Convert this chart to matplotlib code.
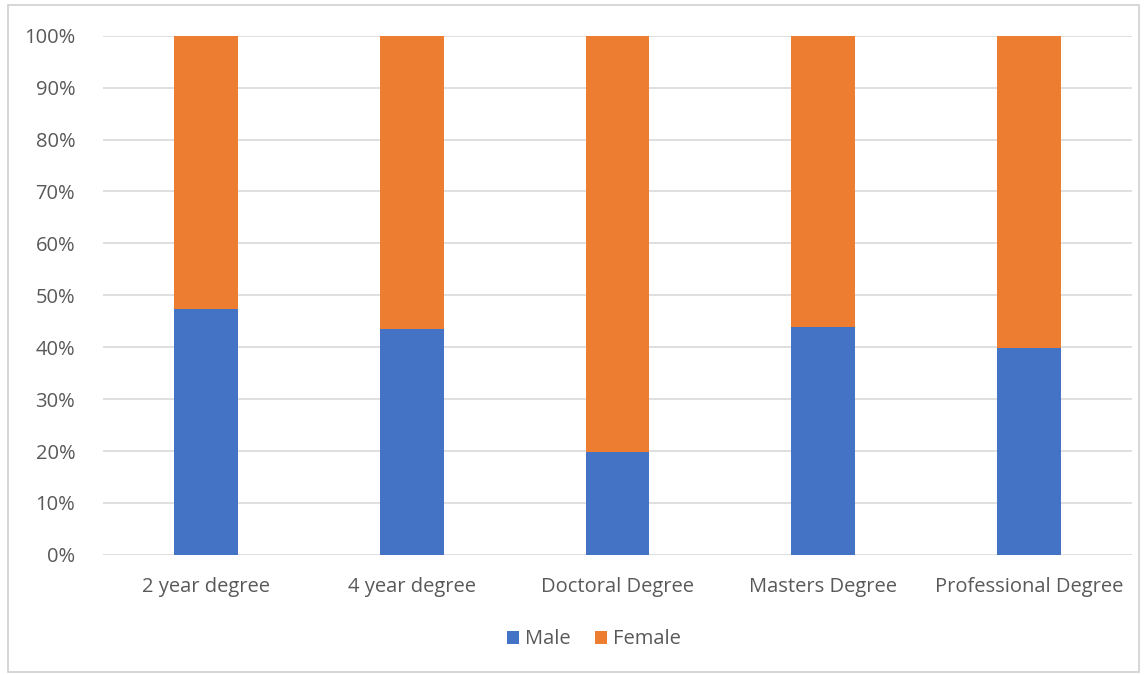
import matplotlib

matplotlib.use("Agg")

import matplotlib.pyplot as plt  # noqa: E402
from matplotlib.patches import Rectangle  # noqa: E402
from matplotlib.ticker import PercentFormatter  # noqa: E402

# Share of each gender by degree type (percent of the column).
degrees = ["2 year degree", "4 year degree", "Doctoral Degree", "Masters Degree", "Professional Degree"]
male_pct = [47.3, 43.5, 19.8, 43.8, 39.8]
female_pct = [100 - m for m in male_pct]

BLUE = "#4472C4"
ORANGE = "#ED7D31"
TEXT = "#595959"
GRID = "#D9D9D9"

plt.rcParams["font.family"] = ["Open Sans", "DejaVu Sans"]

fig = plt.figure(figsize=(11.47, 6.75), dpi=100)
ax = fig.add_axes([0.0898, 0.178, 0.897, 0.769])

# Light frame around the whole chart area.
fig.patches.append(Rectangle((0.007, 0.005), 0.986, 0.987, transform=fig.transFigure,
                             fill=False, edgecolor="#D0D0D0", linewidth=1.2))

x = range(len(degrees))
ax.bar(x, male_pct, width=0.31, color=BLUE, label="Male", zorder=2)
ax.bar(x, female_pct, width=0.31, bottom=male_pct, color=ORANGE, label="Female", zorder=2)

ax.set_xlim(-0.5, len(degrees) - 0.5)
ax.set_ylim(0, 100)
ax.set_yticks(range(0, 101, 10))
ax.yaxis.set_major_formatter(PercentFormatter(decimals=0))
ax.set_xticks(list(x))
ax.set_xticklabels(degrees)

ax.grid(axis="y", color=GRID, linewidth=1.2, zorder=0)
ax.tick_params(length=0, labelsize=14.5, colors=TEXT)
ax.tick_params(axis="x", pad=16)
ax.tick_params(axis="y", pad=20)
for side in ("top", "right", "left", "bottom"):
    ax.spines[side].set_visible(False)

ax.legend(loc="center", bbox_to_anchor=(0.477, -0.163), ncol=2, frameon=False,
          fontsize=14.5, labelcolor=TEXT, handlelength=0.6, handleheight=0.6,
          handletextpad=0.3, columnspacing=1.2)

fig.savefig("out.png", dpi=100)
